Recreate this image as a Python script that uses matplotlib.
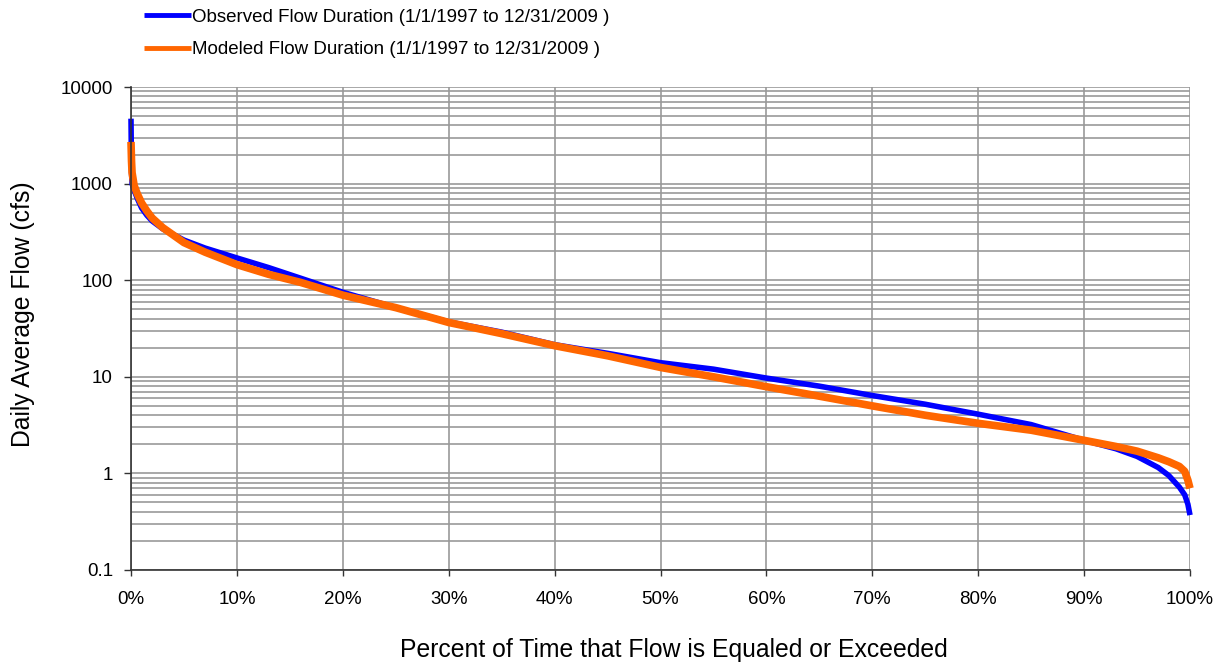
import matplotlib
matplotlib.use("Agg")
import matplotlib.pyplot as plt
from matplotlib.ticker import LogLocator, FixedLocator, NullFormatter

plt.rcParams['font.family'] = ['Liberation Sans', 'DejaVu Sans']

# Percent of time exceeded (%) and flow (cfs)
obs_pct = [0.0, 0.05, 0.1, 0.3, 0.6, 1.0, 1.5, 2.0, 3.0, 5.0, 7.0, 10.0, 13.0, 16.0, 20.0,
           25.0, 30.0, 35.0, 40.0, 45.0, 50.0, 55.0, 60.0, 65.0, 70.0, 75.0, 80.0, 85.0,
           90.0, 93.0, 95.0, 97.0, 98.0, 99.0, 99.5, 99.8, 100.0]
obs_flow = [4700, 1300, 1000, 850, 700, 560, 470, 410, 340, 260, 215, 170, 135, 105, 75,
            52, 37, 29, 21.5, 17.5, 14.0, 12.0, 9.7, 8.0, 6.4, 5.2, 4.1, 3.2,
            2.2, 1.8, 1.5, 1.15, 0.95, 0.72, 0.6, 0.48, 0.37]

mod_pct = [0.0, 0.05, 0.1, 0.3, 0.6, 1.0, 1.5, 2.0, 3.0, 5.0, 7.0, 10.0, 13.0, 16.0, 20.0,
           25.0, 30.0, 35.0, 40.0, 45.0, 50.0, 55.0, 60.0, 65.0, 70.0, 75.0, 80.0, 85.0,
           90.0, 93.0, 95.0, 97.0, 98.0, 99.0, 99.5, 99.8, 100.0]
mod_flow = [2700, 1700, 1300, 950, 780, 630, 520, 440, 350, 245, 195, 145, 115, 95, 70,
            52, 36.5, 28, 21, 16.5, 12.5, 10.0, 7.9, 6.3, 5.0, 4.0, 3.3, 2.8,
            2.2, 1.9, 1.7, 1.45, 1.32, 1.18, 1.05, 0.85, 0.7]

x_ticks = [0, 10, 20, 30, 40, 50, 60, 70, 80, 90, 100]
y_ticks = [0.1, 1, 10, 100, 1000, 10000]
y_labels = ['0.1', '1', '10', '100', '1000', '10000']

obs_label = 'Observed Flow Duration (1/1/1997 to 12/31/2009 )'
mod_label = 'Modeled Flow Duration (1/1/1997 to 12/31/2009 )'

fig = plt.figure(figsize=(12.22, 6.65), dpi=100)
ax = fig.add_axes([131/1222, 1-570/665, (1190-131)/1222, (570-87)/665])

grid_c = '#999999'
ax.set_yscale('log')
ax.set_xlim(0, 100)
ax.set_ylim(0.1, 10000)

ax.set_xticks(x_ticks)
ax.set_xticklabels([f'{t}%' for t in x_ticks])
ax.yaxis.set_major_locator(FixedLocator(y_ticks))
ax.set_yticklabels(y_labels)
ax.yaxis.set_minor_locator(LogLocator(base=10, subs=range(2, 10)))
ax.yaxis.set_minor_formatter(NullFormatter())

ax.grid(True, which='major', axis='both', color=grid_c, linewidth=1.2)
ax.grid(True, which='minor', axis='y', color=grid_c, linewidth=1.2)
ax.set_axisbelow(True)

ax.tick_params(axis='both', which='major', labelsize=13.5, width=1, color='#333333', direction='out')
ax.tick_params(axis='y', which='major', length=5, pad=8)
ax.tick_params(axis='x', which='major', length=4, pad=11)
ax.tick_params(axis='y', which='minor', length=0)

for s in ['top', 'right']:
    ax.spines[s].set_visible(False)
for s in ['left', 'bottom']:
    ax.spines[s].set_color('#333333')
    ax.spines[s].set_linewidth(1.2)

l1, = ax.plot(obs_pct, obs_flow, color='#0000FF', linewidth=4.0, solid_capstyle='butt',
              label=obs_label, clip_on=False)
l2, = ax.plot(mod_pct, mod_flow, color='#FF6600', linewidth=5.5, solid_capstyle='butt',
              label=mod_label, clip_on=False)

ax.set_xlabel('Percent of Time that Flow is Equaled or Exceeded', fontsize=17.8, va='center')
ax.xaxis.set_label_coords((674-131)/1059, -(650-570)/483)
ax.set_ylabel('Daily Average Flow (cfs)', fontsize=17.8, va='center')
ax.yaxis.set_label_coords(-(131-23)/1059, (570-314)/483)

leg = fig.legend(handles=[l1, l2], loc='upper left', bbox_to_anchor=(142/1222, 1-7/665),
                 frameon=False, fontsize=13.5, handlelength=2.5, handletextpad=0.08,
                 labelspacing=0.8, borderaxespad=0.0, borderpad=0.1)
for h in leg.legend_handles:
    h.set_linewidth(3.5)

fig.savefig('out.png', dpi=100)
